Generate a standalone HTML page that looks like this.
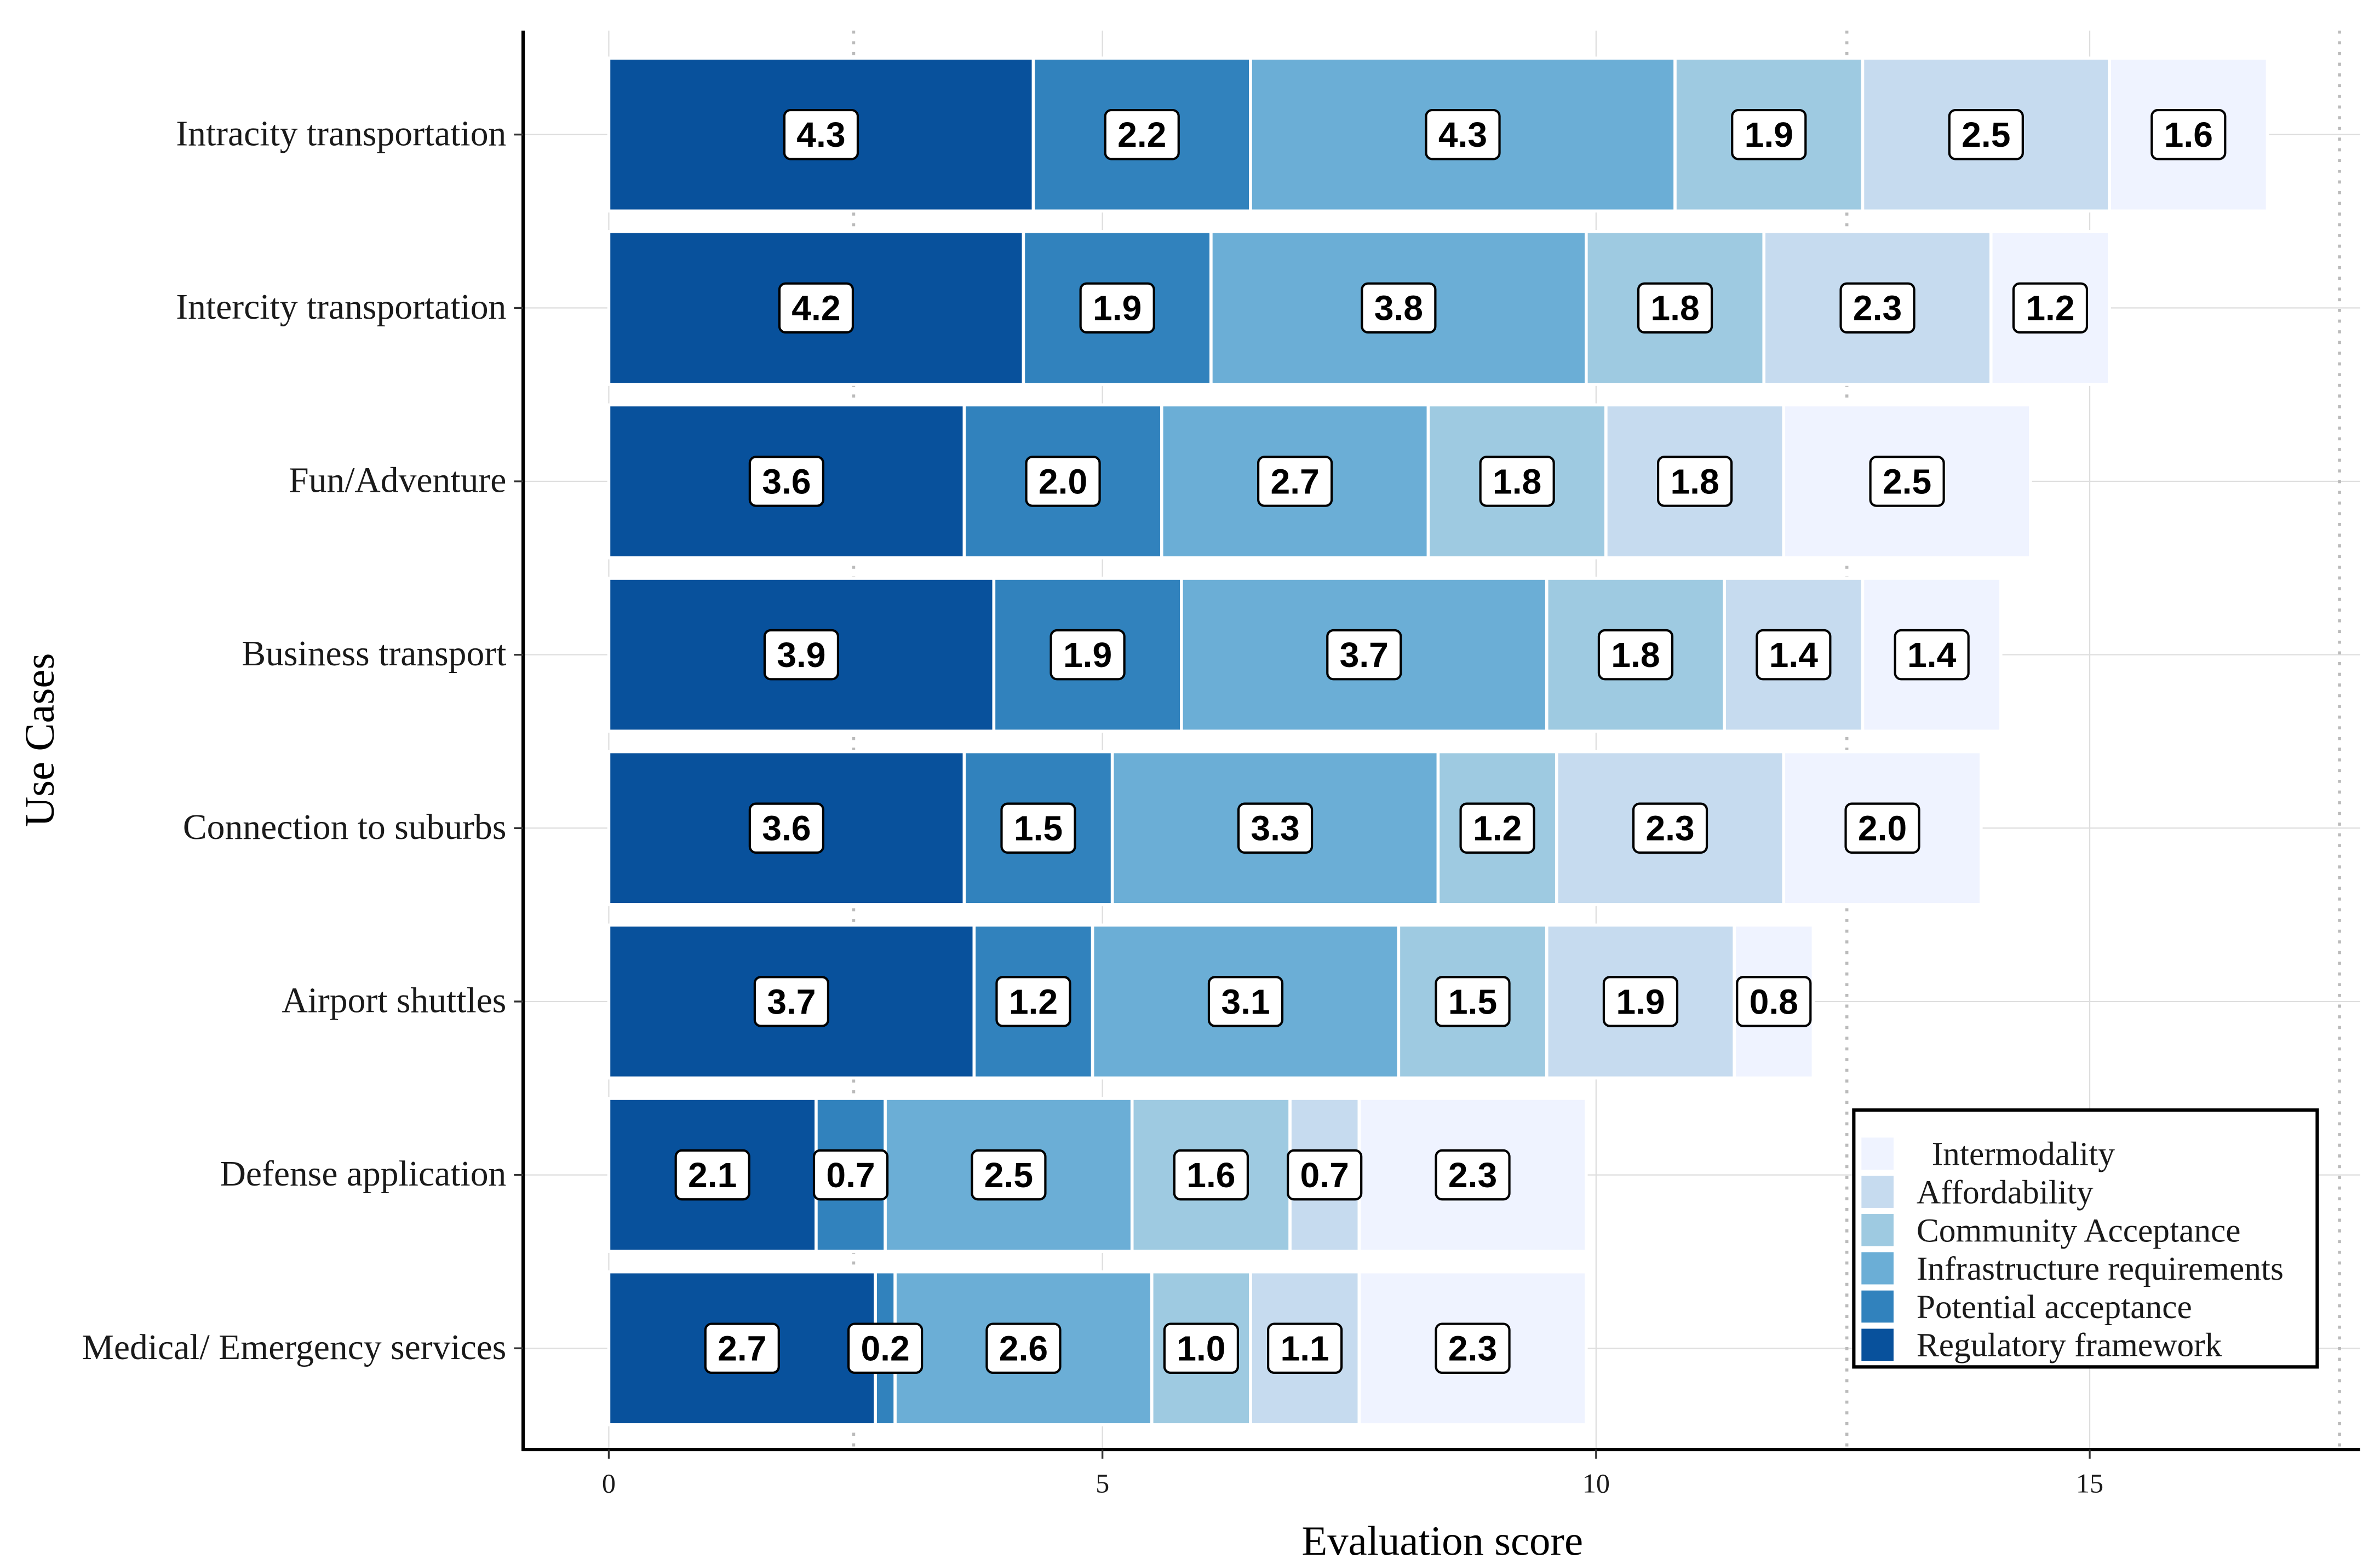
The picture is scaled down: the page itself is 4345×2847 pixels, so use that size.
<!DOCTYPE html>
<html><head><meta charset="utf-8"><style>
html,body{margin:0;padding:0;background:#fff;}
svg{display:block;}
</style></head><body>
<svg id="chart" width="4345" height="2847" viewBox="0 0 1556 1019.6" xmlns="http://www.w3.org/2000/svg">
<rect x="0" y="0" width="1556" height="1020" fill="#fff"/>
<g id="grid"></g>
<g id="bars"></g>
<g id="axes"></g>
<g id="legend"></g>
</svg>
<script>
const categories = ["Intracity transportation","Intercity transportation","Fun/Adventure","Business transport","Connection to suburbs","Airport shuttles","Defense application","Medical/ Emergency services"];
const seriesNames = ["Regulatory framework","Potential acceptance","Infrastructure requirements","Community Acceptance","Affordability","Intermodality"];
const regulatory = [4.3,4.2,3.6,3.9,3.6,3.7,2.1,2.7];
const potential = [2.2,1.9,2.0,1.9,1.5,1.2,0.7,0.2];
const infrastructure = [4.3,3.8,2.7,3.7,3.3,3.1,2.5,2.6];
const community = [1.9,1.8,1.8,1.8,1.2,1.5,1.6,1.0];
const affordability = [2.5,2.3,1.8,1.4,2.3,1.9,0.7,1.1];
const intermodality = [1.6,1.2,2.5,1.4,2.0,0.8,2.3,2.3];
const xTicks = [0,5,10,15];
const dottedRefs = [2.48,12.54,17.53];
const colors = ["#08519c","#3182bd","#6baed6","#9ecae1","#c6dbef","#eff3ff"];
const series = [regulatory,potential,infrastructure,community,affordability,intermodality];

const NS="http://www.w3.org/2000/svg";
function mk(tag,attrs,parent){const e=document.createElementNS(NS,tag);for(const k in attrs)e.setAttribute(k,attrs[k]);parent.appendChild(e);return e;}
const x0=398, ppu=64.55;
const xs=v=>x0+v*ppu;
const yTop=20, yBot=948, rowStep=113.4, row0=88;
const ys=i=>row0+i*rowStep;
const barH=100;
const grid=document.getElementById('grid'), bars=document.getElementById('bars'), axes=document.getElementById('axes'), legend=document.getElementById('legend');
const serif='"Liberation Serif", serif', sans='"Liberation Sans", sans-serif';

xTicks.forEach(t=>{
  const l=mk('line',{x1:xs(t),x2:xs(t),y1:yTop,y2:yBot,stroke:'#dedede','stroke-width':0.8},grid);
  
  
});
categories.forEach((c,i)=>{
  const l=mk('line',{x1:342,x2:1543,y1:ys(i),y2:ys(i),stroke:'#dedede','stroke-width':0.8},grid);
  
  
});
dottedRefs.forEach(v=>{
  const l=mk('line',{x1:xs(v),x2:xs(v),y1:yTop,y2:yBot,stroke:'#bbb','stroke-width':2,'stroke-dasharray':'2,5'},grid);
  
  
});

categories.forEach((c,i)=>{
  let cum=0;
  series.forEach((s,k)=>{
    const v=s[i];
    const r=mk('rect',{x:xs(cum),y:ys(i)-barH/2,width:v*ppu,height:barH,fill:colors[k],stroke:'#fff','stroke-width':2},bars);
    
    
    cum+=v;
  });
  cum=0;
  series.forEach((s,k)=>{
    const v=s[i];
    const cx=xs(cum+v/2);
    const g=mk('g',{},bars);
    
    
    mk('rect',{x:cx-24,y:ys(i)-16,width:48,height:32,rx:4,fill:'#fff',stroke:'#000','stroke-width':1.5},g);
    const t=mk('text',{x:cx,y:ys(i)+8,'text-anchor':'middle','font-family':sans,'font-weight':'bold','font-size':23,fill:'#000'},g);
    t.textContent=v.toFixed(1);
    cum+=v;
  });
});

let l=mk('line',{x1:342,x2:342,y1:yTop,y2:yBot+1,stroke:'#000','stroke-width':2.2},axes);
 
l=mk('line',{x1:341,x2:1543,y1:yBot,y2:yBot,stroke:'#000','stroke-width':2.2},axes);
 
categories.forEach((c,i)=>{
  mk('line',{x1:336,x2:342,y1:ys(i),y2:ys(i),stroke:'#333','stroke-width':1.2},axes);
  const t=mk('text',{x:331,y:ys(i)+7,'text-anchor':'end','font-family':serif,'font-size':23.5,fill:'#1a1a1a'},axes);
  
  
  t.textContent=c;
});
xTicks.forEach(v=>{
  mk('line',{x1:xs(v),x2:xs(v),y1:yBot,y2:yBot+6,stroke:'#333','stroke-width':1.2},axes);
  const t=mk('text',{x:xs(v),y:yBot+28,'text-anchor':'middle','font-family':serif,'font-size':18,fill:'#1a1a1a'},axes);
  
  
  t.textContent=v;
});
let t=mk('text',{x:943,y:1017,'text-anchor':'middle','font-family':serif,'font-size':27.5,fill:'#000'},axes);
 
t.textContent='Evaluation score';
t=mk('text',{x:0,y:0,'text-anchor':'middle','font-family':serif,'font-size':27.5,fill:'#000',transform:'translate(35,484) rotate(-90)'},axes);
 
t.textContent='Use Cases';

const lb=mk('rect',{x:1212,y:726,width:303,height:168,fill:'#fff',stroke:'#000','stroke-width':2.2},legend);
 
for(let j=0;j<6;j++){
  const k=5-j;
  const g=mk('g',{},legend);
  
  
  const yy=754+j*25;
  mk('rect',{x:1217,y:yy-10,width:21,height:21,fill:colors[k]},g);
  const tt=mk('text',{x:k===5?1263:1253,y:yy+8,'font-family':serif,'font-size':22,fill:'#1a1a1a'},g);
  tt.textContent=seriesNames[k];
}
</script>
</body></html>
